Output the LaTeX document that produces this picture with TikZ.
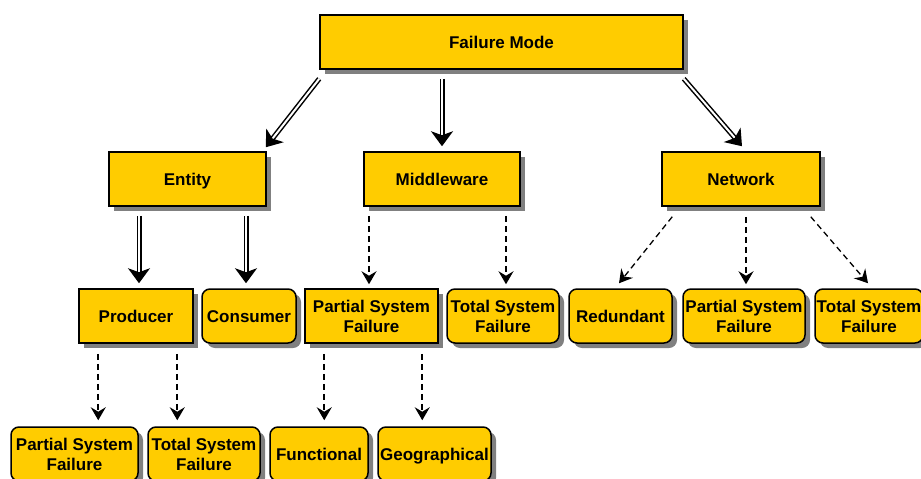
\documentclass[tikz,border=0pt]{standalone}
\usepackage{fontspec}
\setmainfont{Liberation Sans}
\usetikzlibrary{arrows.meta,calc,shadows}
\definecolor{gold}{HTML}{FFCC00}

\begin{document}
\begin{tikzpicture}[x=1pt,y=-1pt,
  box/.style={draw=black, line width=1.5pt, fill=gold, inner sep=0pt, align=center,
    minimum height=54pt, font=\fontsize{17}{20}\selectfont\bfseries,
    drop shadow={shadow xshift=5pt, shadow yshift=-5pt, fill=black!50, opacity=1}},
  rbox/.style={box, rounded corners=8pt},
  oneline/.style={text height=12.2pt, text depth=0pt},
  twoline/.style={execute at begin node={\rule{0pt}{16.4pt}}},
  dblarrow/.style={draw=black, line width=1.5pt, double=white, double distance=2pt,
    -{Stealth[length=15pt,width=22pt,inset=4pt]}},
  dsharrow/.style={draw=black, line width=1.6pt, dash pattern=on 6pt off 4pt,
    -{Stealth[length=13pt,width=15pt,inset=4.5pt]}},
]
\fill[white] (0,0) rectangle (921,479);
\useasboundingbox (0,0) rectangle (921,479);

% top level
\node[box, oneline, minimum width=363pt] (fm) at (501.5,42) {Failure Mode};

% second level
\node[box, oneline, minimum width=157pt] (ent) at (187.5,179) {Entity};
\node[box, oneline, minimum width=156pt] (mw)  at (442,179) {Middleware};
\node[box, oneline, minimum width=158pt] (net) at (741,179) {Network};

% third level
\node[box,  oneline, minimum width=114pt] (prod) at (136,316) {Producer};
\node[rbox, oneline, minimum width=94pt]  (cons) at (249,316) {Consumer};
\node[box,  twoline, minimum width=133pt] (mpsf) at (371.5,316) {Partial System\\Failure};
\node[rbox, twoline, minimum width=112pt] (mtsf) at (503,316) {Total System\\Failure};
\node[rbox, oneline, minimum width=103pt] (red)  at (620.5,316) {Redundant};
\node[rbox, twoline, minimum width=122pt] (npsf) at (744,316) {Partial System\\Failure};
\node[rbox, twoline, minimum width=108pt] (ntsf) at (869,316) {Total System\\Failure};

% fourth level
\node[rbox, twoline, minimum width=127pt] (bpsf) at (74.5,454) {Partial System\\Failure};
\node[rbox, twoline, minimum width=112pt] (btsf) at (204,454) {Total System\\Failure};
\node[rbox, oneline, minimum width=98pt]  (func) at (319,454) {Functional};
\node[rbox, oneline, minimum width=113pt] (geo)  at (434.5,454) {Geographical};

% Failure Mode -> categories
\draw[dblarrow] ($(fm.south west)+(0,9)$) -- ($(ent.north east)+(-1,-4)$);
\draw[dblarrow] ($(mw.north |- fm.south)+(0,9)$) -- ($(mw.north)+(0,-5)$);
\draw[dblarrow] ($(fm.south east)+(0,9)$) -- ($(net.north)+(1,-5)$);

% Entity -> producer / consumer
\draw[dblarrow] ($(prod.north |- ent.south)+(3,9)$) -- ($(prod.north)+(3,-5)$);
\draw[dblarrow] ($(cons.north |- ent.south)+(-3,9)$) -- ($(cons.north)+(-3,-5)$);

% Middleware -> failures
\draw[dsharrow] ($(mpsf.north |- mw.south)+(-2.5,9)$) -- ($(mpsf.north)+(-2.5,-4)$);
\draw[dsharrow] ($(mtsf.north |- mw.south)+(3,9)$) -- ($(mtsf.north)+(3,-4)$);

% Network -> children
\draw[dsharrow, line width=1.3pt] ($(net.south west)+(11,10)$) -- ($(red.north)+(-1.5,-5)$);
\draw[dsharrow] ($(npsf.north |- net.south)+(2,10)$) -- ($(npsf.north)+(2,-4)$);
\draw[dsharrow, line width=1.3pt] ($(net.south east)+(-10,10)$) -- ($(ntsf.north)+(-1,-5)$);

% Producer -> failures
\coordinate (p1) at ($(prod.south west)+(20,10)$);
\coordinate (p2) at ($(prod.south west)+(99,10)$);
\draw[dsharrow] (p1) -- ($(p1 |- bpsf.north)+(0,-6)$);
\draw[dsharrow] (p2) -- ($(p2 |- btsf.north)+(0,-6)$);

% Partial system failure -> kinds
\coordinate (q1) at ($(mpsf.south west)+(20,10)$);
\coordinate (q2) at ($(mpsf.south west)+(118,10)$);
\draw[dsharrow] (q1) -- ($(q1 |- func.north)+(0,-6)$);
\draw[dsharrow] (q2) -- ($(q2 |- geo.north)+(0,-6)$);
\end{tikzpicture}
\end{document}
